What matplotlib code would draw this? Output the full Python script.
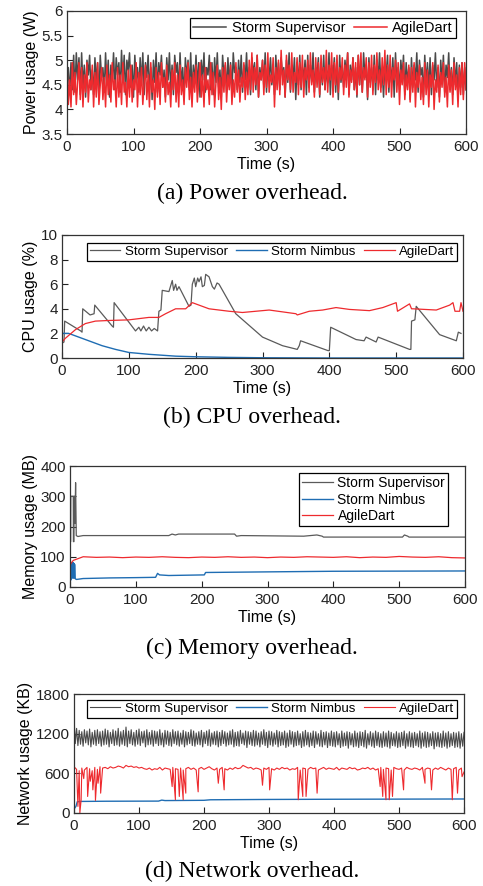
import numpy as np
import matplotlib
matplotlib.use("Agg")
import matplotlib.pyplot as plt

plt.rcParams['font.family'] = ['Liberation Sans', 'DejaVu Sans']

# ---------------- data ----------------
# (a) Power (W), sampled every 2 s
POWER_T_STEP = 2
POWER_SUP = [
    4.50, 4.85, 4.30, 4.95, 4.40, 5.10, 4.35, 5.15, 4.60, 5.05, 4.30, 5.15, 4.45, 4.90, 4.25, 5.00, 4.70, 5.10, 4.40, 4.80,
    4.30, 5.05, 4.55, 4.95, 4.20, 5.10, 4.65, 4.85, 4.35, 5.15, 4.50, 5.00, 4.25, 4.90, 4.60, 5.15, 4.40, 5.05, 4.70, 4.95,
    4.35, 5.20, 4.55, 5.10, 4.30, 5.00, 4.80, 5.15, 4.45, 4.90, 4.25, 5.10, 4.60, 4.85, 4.35, 5.05, 4.50, 5.15, 4.30, 4.95,
    4.65, 5.10, 4.40, 4.85, 4.20, 5.00, 4.55, 5.15, 4.35, 4.95, 4.70, 5.10, 4.45, 4.80, 4.25, 5.05, 4.60, 5.15, 4.40, 4.90,
    4.30, 5.10, 4.75, 4.95, 4.35, 5.15, 4.50, 4.85, 4.25, 5.05, 4.65, 5.00, 4.40, 5.15, 4.30, 4.90, 4.55, 5.10, 4.45, 4.95,
    4.25, 5.00, 4.60, 5.15, 4.35, 4.85, 4.70, 5.10, 4.40, 4.95, 4.30, 5.05, 4.55, 5.15, 4.45, 4.80, 4.25, 5.10, 4.65, 4.90,
    4.35, 5.05, 4.50, 4.95, 4.30, 5.15, 4.75, 4.85, 4.40, 5.00, 4.55, 5.10, 4.35, 4.90, 4.60, 5.15, 4.45, 4.85, 4.30, 5.05,
    4.70, 4.95, 4.40, 5.10, 4.25, 4.85, 4.60, 5.00, 4.45, 5.15, 4.35, 4.90, 4.65, 5.05, 4.50, 4.80, 4.30, 5.10, 4.55, 4.95,
    4.40, 5.05, 4.70, 4.85, 4.25, 5.00, 4.55, 5.15, 4.35, 4.90, 4.60, 5.05, 4.20, 4.95, 4.50, 5.10, 4.40, 4.85, 4.65, 5.00,
    4.30, 5.10, 4.45, 4.90, 4.60, 5.15, 4.35, 4.85, 4.70, 5.05, 4.25, 4.95, 4.50, 5.10, 4.40, 4.80, 4.55, 5.15, 4.30, 4.90,
    4.65, 5.05, 4.35, 4.95, 4.20, 5.10, 4.55, 4.85, 4.45, 5.00, 4.70, 5.15, 4.30, 4.90, 4.60, 5.05, 4.40, 4.85, 4.25, 5.10,
    4.50, 4.95, 4.35, 5.15, 4.65, 4.90, 4.20, 5.05, 4.55, 4.85, 4.40, 5.10, 4.30, 5.00, 4.60, 5.15, 4.45, 4.80, 4.25, 4.95,
    4.70, 5.10, 4.35, 4.90, 4.55, 5.05, 4.25, 5.15, 4.50, 4.85, 4.40, 5.00, 4.65, 5.10, 4.30, 4.95, 4.55, 4.85, 4.20, 5.05,
    4.45, 4.90, 4.60, 5.15, 4.35, 5.00, 4.70, 4.85, 4.25, 5.10, 4.50, 4.95, 4.40, 5.05, 4.30, 4.90, 4.60, 5.15, 4.45, 4.85,
    4.25, 5.00, 4.55, 5.10, 4.35, 4.90, 4.65, 5.15, 4.40, 4.85, 4.30, 5.05, 4.50, 4.95, 4.20, 4.90, 4.45, 4.95, 4.30, 4.85,
    4.40]
POWER_AGILE = [
    4.90, 4.10, 4.60, 4.05, 4.95, 4.30, 4.75, 4.10, 4.55, 4.95, 4.20, 4.85, 4.05, 4.70, 4.35, 4.95, 4.15, 4.60, 4.40, 4.90,
    4.05, 4.75, 4.25, 4.95, 4.10, 4.50, 4.85, 4.20, 4.65, 4.05, 4.90, 4.30, 4.70, 4.15, 4.95, 4.40, 4.60, 4.05, 4.85, 4.25,
    4.70, 4.10, 4.95, 4.35, 4.55, 4.05, 4.80, 4.25, 4.90, 4.15, 4.60, 4.40, 4.95, 4.05, 4.75, 4.30, 4.85, 4.10, 4.55, 4.90,
    4.20, 4.70, 4.05, 4.95, 4.35, 4.60, 4.00, 4.85, 4.25, 4.75, 4.10, 4.95, 4.45, 4.65, 4.15, 4.90, 4.30, 4.55, 4.05, 4.80,
    4.40, 4.95, 4.15, 4.70, 4.05, 4.90, 4.30, 4.60, 4.10, 4.85, 4.45, 4.95, 4.20, 4.65, 4.05, 4.75, 4.35, 4.90, 4.15, 4.55,
    4.95, 4.25, 4.70, 4.05, 4.85, 4.40, 4.60, 4.10, 4.95, 4.30, 4.75, 4.05, 4.55, 4.90, 4.20, 4.65, 4.00, 4.85, 4.35, 4.95,
    4.15, 4.70, 4.40, 4.90, 4.10, 4.60, 4.25, 4.95, 4.35, 4.80, 4.15, 4.65, 4.45, 4.95, 4.20, 4.75, 4.30, 5.00, 4.40, 5.15,
    4.35, 4.85, 4.50, 5.10, 4.25, 4.75, 4.60, 5.00, 4.30, 4.90, 4.45, 5.15, 4.35, 4.70, 4.55, 5.05, 4.05, 4.85, 4.40, 5.00,
    4.30, 5.20, 4.50, 4.80, 4.25, 5.10, 4.60, 4.90, 4.40, 5.15, 4.35, 4.75, 4.55, 5.05, 4.30, 4.95, 4.45, 5.10, 4.25, 4.85,
    4.60, 5.00, 4.35, 5.15, 4.50, 4.80, 4.25, 5.05, 4.45, 4.95, 4.30, 5.10, 4.55, 4.85, 4.40, 5.20, 4.35, 4.90, 4.60, 5.15,
    4.25, 4.95, 4.50, 5.10, 4.35, 4.85, 4.60, 5.05, 4.30, 4.90, 4.45, 5.15, 4.25, 4.80, 4.55, 5.05, 4.40, 4.95, 4.30, 5.10,
    4.50, 5.15, 4.35, 4.85, 4.60, 5.05, 4.25, 4.95, 4.45, 5.10, 4.30, 4.90, 4.55, 5.15, 4.40, 4.80, 4.35, 5.05, 4.50, 5.20,
    4.30, 4.90, 4.45, 5.10, 4.25, 4.85, 4.60, 5.00, 4.35, 4.95, 4.10, 4.80, 4.50, 4.95, 4.20, 4.70, 4.40, 4.90, 4.15, 4.85,
    4.35, 4.95, 4.05, 4.75, 4.45, 4.90, 4.20, 4.65, 4.10, 4.95, 4.30, 4.80, 4.05, 4.70, 4.45, 4.95, 4.00, 4.60, 4.35, 4.90,
    4.15, 4.75, 4.45, 4.95, 4.25, 4.65, 4.05, 4.90, 4.35, 4.80, 4.10, 4.95, 4.40, 4.70, 4.05, 4.85, 4.30, 4.95, 4.20, 4.95,
    4.40]

# (b) CPU (%)
CPU_SUP_T = [0, 3, 4, 28, 30, 31, 42, 48, 49, 75, 77, 78, 110, 115, 118, 122, 126, 130, 134, 138, 143, 145, 148, 150,
             160, 165, 167, 170, 172, 175, 190, 193, 195, 198, 200, 203, 205, 208, 210, 213, 215, 220, 225, 228, 232, 235,
             260, 300, 330, 352, 355, 357, 398, 400, 402, 440, 452, 455, 470, 473, 520, 522, 523, 528, 530, 565, 590, 593, 597]
CPU_SUP_V = [1.2, 1.3, 3.0, 2.2, 2.1, 4.0, 3.5, 3.6, 4.3, 2.6, 2.5, 4.5, 2.2, 2.5, 2.2, 2.6, 2.2, 2.5, 2.2, 2.4, 2.2, 3.8,
             3.9, 5.5, 5.4, 6.3, 5.5, 6.0, 5.5, 5.8, 4.2, 4.3, 6.0, 6.5, 5.8, 6.5, 6.2, 6.6, 5.8, 5.9, 6.8, 6.6, 5.8, 5.6,
             6.1, 6.0, 3.6, 1.7, 1.0, 0.7, 1.0, 1.4, 0.6, 0.6, 2.5, 1.5, 1.4, 1.7, 1.3, 1.7, 0.7, 0.7, 3.0, 3.1, 4.2, 1.9,
             1.4, 2.1, 2.0]
CPU_NIMBUS_T = [0, 10, 20, 40, 60, 80, 100, 130, 170, 200, 250, 300, 400, 600]
CPU_NIMBUS_V = [2.0, 2.0, 1.8, 1.4, 1.0, 0.7, 0.45, 0.3, 0.15, 0.1, 0.05, 0.02, 0.0, 0.0]
CPU_AGILE_T = [0, 5, 20, 35, 50, 70, 100, 130, 145, 155, 170, 185, 195, 205, 220, 250, 270, 290, 310, 330, 350, 352,
               370, 390, 410, 430, 460, 480, 500, 502, 520, 523, 525, 560, 580, 585, 588, 595, 597, 600]
CPU_AGILE_V = [1.3, 1.6, 2.3, 2.8, 3.0, 3.05, 3.1, 3.3, 3.3, 3.6, 4.0, 4.0, 4.5, 4.3, 4.0, 3.8, 3.7, 3.8, 3.9, 3.75,
               3.6, 3.5, 3.8, 3.9, 4.1, 3.95, 3.85, 4.1, 4.5, 3.8, 4.4, 4.0, 4.0, 3.9, 4.3, 4.5, 3.8, 3.8, 4.5, 3.8]

# (c) Memory (MB)
MEM_SUP_T = [0, 1, 1.2, 5, 5.2, 6, 6.2, 7, 7.5, 8.5, 9.5, 12, 20, 150, 155, 160, 165, 250, 253, 260, 355, 365, 375,
             383, 385, 505, 508, 513, 515, 600]
MEM_SUP_V = [150, 150, 300, 300, 150, 150, 300, 300, 210, 345, 170, 167, 170, 170, 175, 172, 175, 175, 168, 170, 168,
             170, 172, 168, 165, 165, 172, 168, 165, 165]
MEM_NIMBUS_T = [0, 2, 3, 3.5, 4, 4.5, 5, 5.5, 6, 6.5, 7, 8, 10, 20, 60, 100, 130, 133, 136, 150, 204, 206, 300, 400, 600]
MEM_NIMBUS_V = [20, 25, 80, 30, 82, 30, 80, 30, 78, 30, 75, 27, 25, 28, 30, 31, 32, 45, 40, 38, 40, 48, 50, 52, 53]
MEM_AGILE_T = [0, 2, 5, 10, 15, 20, 40, 60, 80, 100, 120, 140, 160, 180, 200, 220, 240, 260, 280, 300, 320, 340, 360,
               380, 400, 420, 440, 460, 480, 500, 520, 540, 560, 580, 600]
MEM_AGILE_V = [70, 80, 88, 92, 96, 100, 98, 99, 97, 99, 98, 100, 98, 97, 99, 98, 100, 98, 99, 97, 99, 98, 100, 99,
               98, 100, 97, 99, 98, 101, 99, 98, 100, 97, 96]

# (d) Network (KB)
NET_SUP_PEAKS = [  # t = 0, 4, 8, ...
    1450, 1280, 1250, 1230, 1260, 1240, 1270, 1220, 1250, 1260, 1230, 1240, 1270, 1250, 1220, 1260, 1240, 1280, 1230, 1250,
    1300, 1240, 1260, 1220, 1250, 1270, 1230, 1240, 1260, 1220, 1250, 1240, 1230, 1260, 1210, 1250, 1240, 1220, 1260, 1230,
    1240, 1210, 1250, 1230, 1220, 1260, 1240, 1210, 1230, 1250, 1220, 1240, 1260, 1210, 1230, 1240, 1220, 1250, 1230, 1210,
    1240, 1260, 1220, 1230, 1250, 1210, 1240, 1230, 1220, 1250, 1240, 1210, 1230, 1260, 1220, 1240, 1230, 1210, 1250, 1230,
    1220, 1240, 1210, 1250, 1230, 1220, 1240, 1200, 1230, 1250, 1220, 1210, 1240, 1230, 1200, 1250, 1220, 1230, 1210, 1240,
    1220, 1230, 1200, 1240, 1210, 1230, 1220, 1200, 1240, 1210, 1230, 1220, 1250, 1200, 1230, 1210, 1240, 1220, 1200, 1230,
    1210, 1240, 1220, 1200, 1230, 1210, 1220, 1240, 1200, 1230, 1210, 1220, 1200, 1240, 1210, 1230, 1220, 1200, 1230, 1210,
    1220, 1200, 1240, 1210, 1230, 1200, 1220, 1210, 1230, 1200, 1220]
NET_SUP_TROUGHS = [  # t = 2, 6, 10, ...
    1050, 1020, 1040, 1010, 1060, 1030, 1000, 1040, 1020, 1050, 1010, 1030, 1040, 1000, 1050, 1020, 1030, 1010, 1040, 1020,
    1000, 1050, 1030, 1010, 1040, 1020, 1060, 1000, 1030, 1040, 1010, 1050, 1020, 1030, 1000, 1040, 1020, 1010, 1050, 1030,
    1010, 1040, 1000, 1030, 1050, 1020, 1010, 1040, 1030, 1000, 1050, 1020, 1010, 1040, 1030, 1000, 1020, 1050, 1010, 1030,
    1040, 1000, 1020, 1010, 1050, 1030, 990, 1040, 1020, 1010, 1030, 1000, 1040, 1020, 990, 1030, 1010, 1040, 1000, 1020,
    1030, 990, 1010, 1040, 1000, 1020, 1030, 990, 1010, 1030, 1000, 1020, 990, 1040, 1010, 1000, 1030, 990, 1020, 1010,
    1000, 1030, 990, 1010, 1020, 980, 1030, 1000, 1010, 990, 1020, 1000, 980, 1030, 1010, 990, 1020, 1000, 990, 1010,
    1000, 980, 1020, 1010, 990, 1000, 1020, 980, 1010, 1000, 990, 1020, 1000, 980, 1010, 990, 1000, 1020, 970, 1010,
    1000, 990, 1010, 980, 1000, 1020, 990, 1000, 980, 1010]
NET_NIMBUS_T = [0, 3, 5, 10, 50, 130, 135, 140, 200, 210, 300, 400, 500, 600]
NET_NIMBUS_V = [60, 100, 170, 175, 178, 180, 195, 188, 192, 200, 205, 208, 210, 212]
NET_AGILE_BASE = [  # t = 0, 4, 8, ...
    700, 660, 640, 680, 650, 690, 670, 640, 690, 660, 700, 680, 690, 670, 700, 680, 690, 710, 700, 680,
    720, 700, 710, 690, 700, 680, 690, 670, 660, 680, 650, 670, 660, 690, 650, 680, 670, 660, 690, 670,
    660, 680, 650, 670, 690, 660, 680, 650, 670, 690, 660, 680, 700, 670, 650, 680, 660, 690, 670, 650,
    680, 660, 690, 670, 680, 720, 700, 680, 690, 660, 680, 670, 650, 680, 660, 690, 670, 650, 680, 660,
    690, 670, 680, 650, 670, 660, 690, 650, 680, 670, 660, 690, 670, 680, 650, 670, 690, 660, 680, 670,
    660, 690, 650, 680, 670, 660, 690, 670, 680, 650, 660, 680, 670, 690, 660, 680, 650, 670, 690, 660,
    680, 670, 650, 690, 670, 660, 680, 650, 690, 670, 660, 680, 670, 650, 690, 660, 680, 670, 650, 680,
    660, 690, 670, 650, 680, 660, 670, 690, 650, 680, 620]
NET_AGILE_DIP_T = [6, 9, 11, 15, 21, 25, 29, 33, 37, 41, 151, 156, 162, 168, 172, 191, 222, 231, 290, 301,
                   345, 352, 357, 374, 471, 475, 480, 485, 490, 507, 540, 550, 582, 590, 597]
NET_AGILE_DIP_V = [100, 0, 200, 520, 250, 480, 350, 190, 450, 300, 400, 200, 250, 200, 300, 320, 450, 350, 420, 350,
                   200, 250, 250, 300, 400, 250, 200, 200, 250, 350, 450, 350, 200, 300, 550]

X_TICKS = [0, 100, 200, 300, 400, 500, 600]
C_SUP = '#4a4a4a'
C_SUP_LIGHT = '#5a5a5a'
C_NIM = '#1f6db3'
C_AGI = '#ee2a2e'

# ---------------- figure ----------------
W, H = 483, 886
fig = plt.figure(figsize=(W / 100, H / 100), dpi=100)


def add_axes(l, r, t, b):
    return fig.add_axes([l / W, 1 - b / H, (r - l) / W, (b - t) / H])


def style(ax, ylim, yticks, ylabels, ylabel):
    ax.set_xlim(0, 600)
    ax.set_ylim(*ylim)
    ax.set_xticks(X_TICKS)
    ax.set_yticks(yticks)
    ax.set_yticklabels(ylabels)
    ax.tick_params(direction='in', length=4, width=0.8, labelsize=11, colors='#222222')
    ax.tick_params(axis='x', pad=4.5)
    ax.tick_params(axis='y', pad=3)
    for s in ax.spines.values():
        s.set_color('#333333')
        s.set_linewidth(0.9)
    ax.set_xlabel('Time (s)', fontsize=11.5, labelpad=2)
    ax.set_ylabel(ylabel, fontsize=11.5, labelpad=2)


def legend(ax, right_px, top_px, ncol, fs, **kw):
    leg = ax.legend(loc='upper right', bbox_to_anchor=(right_px / W, 1 - top_px / H),
                    bbox_transform=fig.transFigure, borderaxespad=0, ncol=ncol, fontsize=fs,
                    frameon=True, fancybox=False, edgecolor='black', framealpha=1,
                    handletextpad=0.35, columnspacing=0.6, borderpad=0.2, **kw)
    leg.get_frame().set_linewidth(0.9)
    return leg


def caption(y_px, txt):
    fig.text(252 / W, 1 - y_px / H, txt, ha='center', va='center',
             fontsize=17, family=['Liberation Serif', 'DejaVu Serif'])


# (a) Power
ax = add_axes(67, 466, 11, 134)
tp = np.arange(len(POWER_SUP)) * POWER_T_STEP
ax.plot(tp, POWER_SUP, color=C_SUP, lw=1.1, label='Storm Supervisor')
ax.plot(tp, POWER_AGILE, color=C_AGI, lw=1.1, label='AgileDart')
style(ax, (3.5, 6), [3.5, 4, 4.5, 5, 5.5, 6], ['3.5', '4', '4.5', '5', '5.5', '6'], 'Power usage (W)')
legend(ax, 456, 18, 2, 10.5, handlelength=2.3)
caption(193, '(a) Power overhead.')

# (b) CPU
ax = add_axes(62, 463, 235, 358)
ax.plot(CPU_SUP_T, CPU_SUP_V, color=C_SUP_LIGHT, lw=0.9, label='Storm Supervisor')
ax.plot(CPU_NIMBUS_T, CPU_NIMBUS_V, color=C_NIM, lw=1.0, label='Storm Nimbus')
ax.plot(CPU_AGILE_T, CPU_AGILE_V, color=C_AGI, lw=0.9, label='AgileDart')
style(ax, (0, 10), [0, 2, 4, 6, 8, 10], ['0', '2', '4', '6', '8', '10'], 'CPU usage (%)')
legend(ax, 457, 243, 3, 9.6, handlelength=2.3)
caption(417, '(b) CPU overhead.')

# (c) Memory
ax = add_axes(70, 465, 466, 587)
ax.plot(MEM_SUP_T, MEM_SUP_V, color=C_SUP_LIGHT, lw=0.9, label='Storm Supervisor')
ax.plot(MEM_NIMBUS_T, MEM_NIMBUS_V, color=C_NIM, lw=1.0, label='Storm Nimbus')
ax.plot(MEM_AGILE_T, MEM_AGILE_V, color=C_AGI, lw=0.9, label='AgileDart')
style(ax, (0, 400), [0, 100, 200, 300, 400], ['0', '100', '200', '300', '400'], 'Memory usage (MB)')
legend(ax, 448, 473, 1, 10, handlelength=2.2, labelspacing=0.2)
caption(648, '(c) Memory overhead.')

# (d) Network
ax = add_axes(74, 464, 694, 813)
t_sup = []
v_sup = []
for i, pk in enumerate(NET_SUP_PEAKS):
    t_sup.append(4 * i)
    v_sup.append(pk)
    if i < len(NET_SUP_TROUGHS):
        t_sup.append(4 * i + 2)
        v_sup.append(NET_SUP_TROUGHS[i])
ax.plot(t_sup, v_sup, color=C_SUP, lw=0.8, label='Storm Supervisor')
ax.plot(NET_NIMBUS_T, NET_NIMBUS_V, color=C_NIM, lw=1.0, label='Storm Nimbus')
pts = [(4 * i, v) for i, v in enumerate(NET_AGILE_BASE)] + list(zip(NET_AGILE_DIP_T, NET_AGILE_DIP_V))
pts.sort()
ax.plot([p[0] for p in pts], [p[1] for p in pts], color=C_AGI, lw=0.8, label='AgileDart')
style(ax, (0, 1800), [0, 600, 1200, 1800], ['0', '600', '1200', '1800'], 'Network usage (KB)')
legend(ax, 457, 700, 3, 9.6, handlelength=2.3)
caption(871, '(d) Network overhead.')

fig.savefig('out.png', dpi=100)
